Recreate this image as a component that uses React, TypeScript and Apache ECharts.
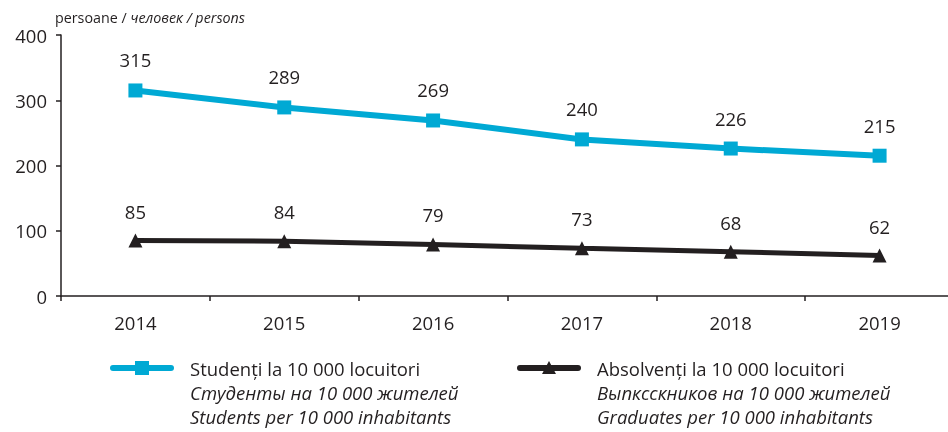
import React, { useEffect, useRef } from "react";
import * as echarts from "echarts";

const years = ["2014", "2015", "2016", "2017", "2018", "2019"];
const students = [315, 289, 269, 240, 226, 215];
const graduates = [85, 84, 79, 73, 68, 62];
const studentsLegend = ["Studenți la 10 000 locuitori", "Студенты на 10 000 жителей", "Students per 10 000 inhabitants"];
const graduatesLegend = ["Absolvenți la 10 000 locuitori", "Выпксскников на 10 000 жителей", "Graduates per 10 000 inhabitants"];

const FONT = "'Open Sans', 'Noto Sans', sans-serif";
const CYAN = "#00a9d4";
const DARK = "#231f20";
const FS = 18.5;

export default function App() {
  const ref = useRef<HTMLDivElement>(null);
  useEffect(() => {
    if (!ref.current) return;
    const chart = echarts.init(ref.current, null, { renderer: "svg" });
    const legendBlock = (x: number, lines: string[], color: string, marker: any) => [
      { type: "line", shape: { x1: x, y1: 368, x2: x + 58, y2: 368 }, style: { stroke: color, lineWidth: 6, lineCap: "round" } },
      marker,
      ...lines.map((t, i) => ({
        type: "text",
        x: x + 77,
        y: 368 + i * 24,
        style: { text: t, font: `${i === 0 ? "normal" : "italic"} ${FS}px ${FONT}`, fill: DARK, verticalAlign: "middle" },
      })),
    ];
    chart.setOption({
      animation: false,
      textStyle: { fontFamily: FONT },
      grid: { left: 61, width: 893, top: 35, height: 261 },
      xAxis: {
        type: "category",
        data: years,
        boundaryGap: true,
        axisLine: { lineStyle: { color: DARK, width: 1.5 } },
        axisTick: { show: true, length: 5, lineStyle: { color: DARK, width: 1.5 } },
        axisLabel: { color: DARK, fontSize: FS, margin: 17, fontFamily: FONT },
      },
      yAxis: {
        type: "value",
        min: 0,
        max: 400,
        interval: 100,
        axisLine: { show: true, lineStyle: { color: DARK, width: 1.5 } },
        axisTick: { show: true, length: 5, lineStyle: { color: DARK, width: 1.5 } },
        axisLabel: { color: DARK, fontSize: FS, margin: 14, fontFamily: FONT },
        splitLine: { show: false },
      },
      series: [
        {
          name: "students",
          type: "line",
          data: students,
          symbol: "rect",
          symbolSize: 14,
          lineStyle: { color: CYAN, width: 6 },
          itemStyle: { color: CYAN },
          label: { show: true, position: "top", distance: 14, color: DARK, fontSize: FS, fontFamily: FONT },
        },
        {
          name: "graduates",
          type: "line",
          data: graduates,
          symbol: "triangle",
          symbolSize: 14,
          lineStyle: { color: DARK, width: 5 },
          itemStyle: { color: DARK },
          label: { show: true, position: "top", distance: 13, color: DARK, fontSize: FS, fontFamily: FONT },
        },
      ],
      graphic: [
        {
          type: "text",
          left: 55,
          top: 10,
          style: {
            text: "{a|persoane / }{b|человек / persons}",
            rich: {
              a: { font: `14.3px ${FONT}`, fill: DARK },
              b: { font: `italic 14.3px ${FONT}`, fill: DARK },
            },
          },
        },
        ...legendBlock(113, studentsLegend, CYAN, {
          type: "rect",
          shape: { x: 135, y: 361, width: 14, height: 14 },
          style: { fill: CYAN },
        }),
        ...legendBlock(520, graduatesLegend, DARK, {
          type: "polygon",
          shape: { points: [[549, 361], [556, 374], [542, 374]] },
          style: { fill: DARK },
        }),
      ],
    });
    return () => chart.dispose();
  }, []);
  return (
    <div style={{ position: "fixed", left: 0, top: 0, width: 948, height: 432, overflow: "hidden" }}>
      <div ref={ref} style={{ width: 960, height: 432 }} />
    </div>
  );
}
